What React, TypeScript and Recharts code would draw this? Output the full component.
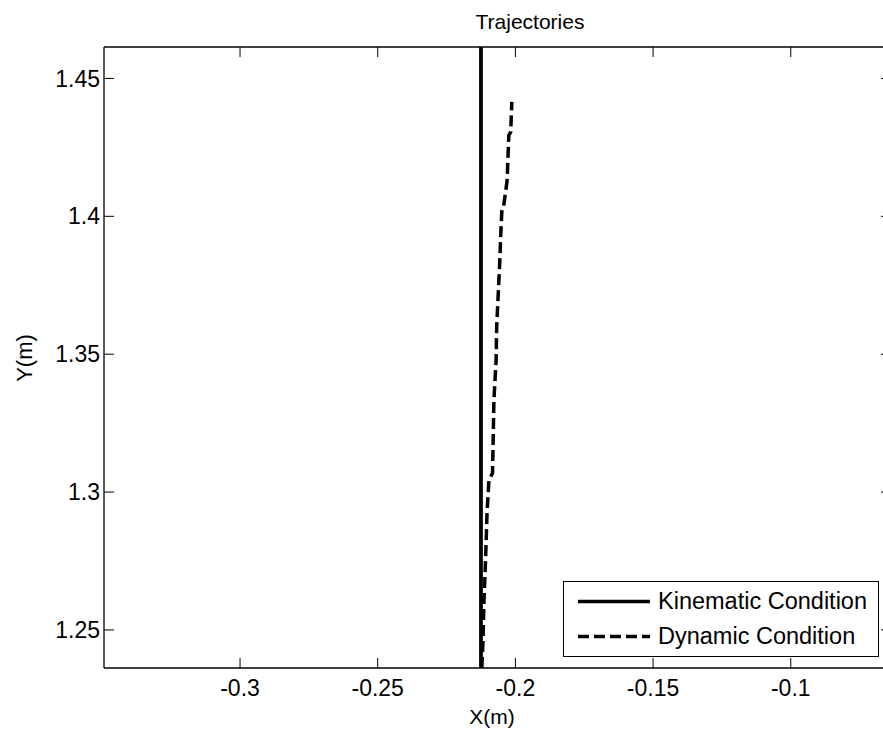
import React from 'react';
import { LineChart, Line, XAxis, YAxis, Legend } from 'recharts';

const xTicks = [-0.3, -0.25, -0.2, -0.15, -0.1];
const yTicks = [1.25, 1.3, 1.35, 1.4, 1.45];
const xDomain: [number, number] = [-0.3494, -0.0636];
const yDomain: [number, number] = [1.2362, 1.4614];

const seriesNames = ['Kinematic Condition', 'Dynamic Condition'];

const kinematicX = [-0.2125, -0.2125];
const kinematicY = [1.2362, 1.47];

const dynamicX = [
  -0.2122, -0.2118, -0.2114, -0.2108, -0.2103, -0.2096, -0.2083, -0.2078, -0.207,
  -0.2068, -0.2057, -0.2053, -0.2049, -0.2043, -0.203, -0.2024, -0.2017, -0.2013,
];
const dynamicY = [
  1.2362, 1.2452, 1.2608, 1.2765, 1.2924, 1.3044, 1.3069, 1.3334, 1.3479,
  1.3599, 1.383, 1.3939, 1.4022, 1.4034, 1.4131, 1.4294, 1.4306, 1.4415,
];

const kinematicData = kinematicX.map((x, i) => ({ x, y: kinematicY[i] }));
const dynamicData = dynamicX.map((x, i) => ({ x, y: dynamicY[i] }));

const FONT = '"Liberation Sans", Arial, sans-serif';
const tickStyle = { fill: '#000', fontSize: 23, fontFamily: FONT };
const DASH = '11 5';

const LegendBox = (props: any) => {
  const payload = [...(props.payload || [])].sort(
    (a: any, b: any) => seriesNames.indexOf(a.value) - seriesNames.indexOf(b.value)
  );
  return (
    <div
      style={{
        width: 316,
        height: 76,
        boxSizing: 'border-box',
        border: '1px solid #000',
        background: '#fff',
        fontFamily: FONT,
        fontSize: 23.5,
        color: '#000',
        paddingTop: 2,
      }}
    >
      {payload.map((entry: any, i: number) => {
        const dashed = entry.value === seriesNames[1];
        return (
          <div key={i} style={{ display: 'flex', alignItems: 'center', height: 35, lineHeight: '35px' }}>
            <svg width={94} height={35} style={{ display: 'block' }}>
              <line
                x1={14}
                x2={86}
                y1={17.5}
                y2={17.5}
                stroke="#000"
                strokeWidth={3.5}
                strokeDasharray={dashed ? DASH : undefined}
              />
            </svg>
            <span style={{ whiteSpace: 'nowrap' }}>{entry.value}</span>
          </div>
        );
      })}
    </div>
  );
};

export default function App() {
  return (
    <div style={{ position: 'absolute', left: 0, top: 0, width: 883, height: 736, overflow: 'hidden', background: '#fff' }}>
      <LineChart width={895} height={736} margin={{ top: 0, right: 0, bottom: 0, left: 0 }}>
        <XAxis
          xAxisId="b"
          type="number"
          dataKey="x"
          orientation="bottom"
          domain={xDomain}
          ticks={xTicks}
          allowDataOverflow
          height={68}
          tickSize={-10}
          tickMargin={22}
          tick={tickStyle}
          axisLine={{ stroke: '#000', strokeWidth: 1.3 }}
          tickLine={{ stroke: '#000' }}
          tickFormatter={(v: number) => String(v)}
        />
        <XAxis
          xAxisId="t"
          type="number"
          dataKey="x"
          orientation="top"
          domain={xDomain}
          ticks={xTicks}
          allowDataOverflow
          height={47}
          tickSize={-10}
          tick={tickStyle}
          axisLine={{ stroke: '#000', strokeWidth: 1.3 }}
          tickLine={{ stroke: '#000' }}
          tickFormatter={() => ''}
        />
        <YAxis
          yAxisId="l"
          type="number"
          dataKey="y"
          orientation="left"
          domain={yDomain}
          ticks={yTicks}
          allowDataOverflow
          width={104}
          tickSize={-10}
          tickMargin={14}
          tick={tickStyle}
          axisLine={{ stroke: '#000', strokeWidth: 1.3 }}
          tickLine={{ stroke: '#000' }}
          tickFormatter={(v: number) => String(v)}
        />
        <YAxis
          yAxisId="r"
          type="number"
          dataKey="y"
          orientation="right"
          domain={yDomain}
          ticks={yTicks}
          allowDataOverflow
          width={4}
          tickSize={-10}
          tick={tickStyle}
          axisLine={{ stroke: '#000', strokeWidth: 1.3 }}
          tickLine={{ stroke: '#000' }}
          tickFormatter={() => ''}
        />
        <Legend
          layout="vertical"
          align="center"
          verticalAlign="middle"
          wrapperStyle={{ position: 'absolute', left: 563, top: 581, width: 316, height: 76 }}
          content={(p: any) => <LegendBox {...p} />}
        />
        <Line
          xAxisId="b"
          yAxisId="l"
          name={seriesNames[0]}
          data={kinematicData}
          dataKey="y"
          stroke="#000"
          strokeWidth={3.8}
          dot={false}
          activeDot={false}
          isAnimationActive={false}
        />
        <Line
          xAxisId="b"
          yAxisId="l"
          name={seriesNames[1]}
          data={dynamicData}
          dataKey="y"
          stroke="#000"
          strokeWidth={3.5}
          strokeDasharray={DASH}
          dot={false}
          activeDot={false}
          isAnimationActive={false}
        />
      </LineChart>
      <svg
        width={883}
        height={736}
        style={{ position: 'absolute', left: 0, top: 0, pointerEvents: 'none' }}
      >
        <text x={530} y={29} textAnchor="middle" fontSize={21} fontFamily={FONT} fill="#000">
          Trajectories
        </text>
        <text x={492} y={724} textAnchor="middle" fontSize={21} fontFamily={FONT} fill="#000">
          X(m)
        </text>
        <text
          x={32}
          y={358}
          textAnchor="middle"
          fontSize={22}
          fontFamily={FONT}
          fill="#000"
          transform="rotate(-90 32 358)"
        >
          Y(m)
        </text>
      </svg>
    </div>
  );
}
